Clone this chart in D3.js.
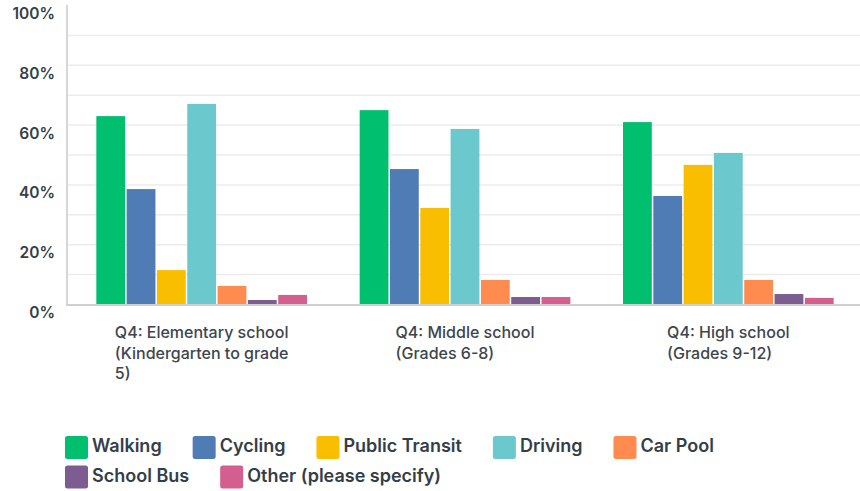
<!DOCTYPE html>
<html lang="en">
  <head>
    <meta charset="UTF-8" />
    <title>Q4 travel mode by school level</title>
    <script src="https://d3js.org/d3.v7.min.js"></script>
    <style>
      body {
        margin: 0;
        background: #fff;
        font-family: Inter, "Open Sans", sans-serif;
      }
      .tick-label {
        font-size: 15.5px;
        font-weight: 600;
        fill: #333e48;
      }
      .cat-label {
        font-size: 16px;
        font-weight: 500;
        fill: #3d454e;
      }
      .legend-label {
        font-size: 18px;
        font-weight: 600;
        fill: #333e48;
      }
    </style>
  </head>
  <body>
    <svg width="860" height="491"></svg>

    <script>
      // Chart data
      const categories = ["Elementary", "Middle", "High"];
      const categoryLines = [
        ["Q4: Elementary school", "(Kindergarten to grade", "5)"],
        ["Q4: Middle school", "(Grades 6-8)"],
        ["Q4: High school", "(Grades 9-12)"]
      ];
      const seriesNames = ["Walking", "Cycling", "Public Transit", "Driving", "Car Pool", "School Bus", "Other (please specify)"];
      const seriesColors = ["#00bf6f", "#507cb6", "#f9be00", "#6bc8cd", "#ff8b4f", "#7d5c8f", "#d45f8e"];
      const walking = [63.0, 65.0, 61.0];
      const cycling = [38.6, 45.3, 36.3];
      const publicTransit = [11.5, 32.3, 46.7];
      const driving = [67.1, 58.7, 50.7];
      const carPool = [6.2, 8.2, 8.2];
      const schoolBus = [1.5, 2.5, 3.5];
      const other = [3.2, 2.5, 2.2];
      const yTicks = [0, 20, 40, 60, 80, 100];
      const gridTicks = [10, 20, 30, 40, 50, 60, 70, 80, 90];

      const seriesValues = [walking, cycling, publicTransit, driving, carPool, schoolBus, other];

      const svg = d3.select("svg");

      // Scales
      const x0 = d3.scaleBand()
        .domain(categories)
        .range([70, 860])
        .paddingInner(0.2)
        .paddingOuter(0.1);

      const x1 = d3.scaleBand()
        .domain(seriesNames)
        .range([0, x0.bandwidth()])
        .paddingInner(0.05);

      const y = d3.scaleLinear()
        .domain([0, 100])
        .range([304.5, 5.5]);

      // Gridlines
      svg.append("g")
        .selectAll("line")
        .data(gridTicks)
        .join("line")
        .attr("x1", 67)
        .attr("x2", 860)
        .attr("y1", d => y(d))
        .attr("y2", d => y(d))
        .attr("stroke", "#ececec")
        .attr("stroke-width", 1.5);

      // Bars
      const groups = svg.append("g")
        .selectAll("g")
        .data(categories)
        .join("g")
        .attr("transform", d => `translate(${x0(d)},0)`);

      groups.selectAll("rect")
        .data((c, ci) => seriesNames.map((s, si) => ({ s, si, v: seriesValues[si][ci] })))
        .join("rect")
        .attr("x", d => x1(d.s))
        .attr("width", x1.bandwidth())
        .attr("y", d => y(d.v))
        .attr("height", d => y(0) - y(d.v))
        .attr("fill", d => seriesColors[d.si]);

      // Axis lines
      svg.append("line")
        .attr("x1", 67).attr("x2", 67)
        .attr("y1", 5).attr("y2", 305.5)
        .attr("stroke", "#d6d6d6")
        .attr("stroke-width", 2);

      svg.append("line")
        .attr("x1", 66).attr("x2", 860)
        .attr("y1", 305).attr("y2", 305)
        .attr("stroke", "#d0d0d0")
        .attr("stroke-width", 2);

      // Y tick labels (drawn slightly below their gridline, as in the original)
      svg.append("g")
        .selectAll("text")
        .data(yTicks)
        .join("text")
        .attr("class", "tick-label")
        .attr("x", 55)
        .attr("y", d => y(d) + 13.5)
        .attr("text-anchor", "end")
        .text(d => d + "%");

      // Category labels: block centred on the group, lines left-aligned
      categories.forEach((c, i) => {
        const g = svg.append("g");
        const t = g.append("text").attr("class", "cat-label");
        categoryLines[i].forEach((line, li) => {
          t.append("tspan")
            .attr("x", 0)
            .attr("y", 338 + li * 20.5)
            .text(line);
        });
        let w = 0;
        t.selectAll("tspan").each(function () {
          w = Math.max(w, this.getComputedTextLength());
        });
        const cx = x0(c) + x0.bandwidth() / 2;
        g.attr("transform", `translate(${cx - w / 2},0)`);
      });

      // Legend with wrapping
      const legend = svg.append("g");
      let lx = 65, ly = 436;
      const sw = 23, rowH = 29.5, maxX = 780;
      seriesNames.forEach((name, i) => {
        const item = legend.append("g");
        const txt = item.append("text")
          .attr("class", "legend-label")
          .attr("x", sw + 4)
          .attr("y", 16)
          .text(name);
        const tw = txt.node().getComputedTextLength();
        const itemW = sw + 4 + tw;
        if (lx + itemW > maxX) {
          lx = 65;
          ly += rowH;
        }
        item.attr("transform", `translate(${lx},${ly})`);
        item.insert("rect", "text")
          .attr("width", sw)
          .attr("height", sw)
          .attr("rx", 2.5)
          .attr("fill", seriesColors[i]);
        lx += itemW + 31;
      });
    </script>
  </body>
</html>
